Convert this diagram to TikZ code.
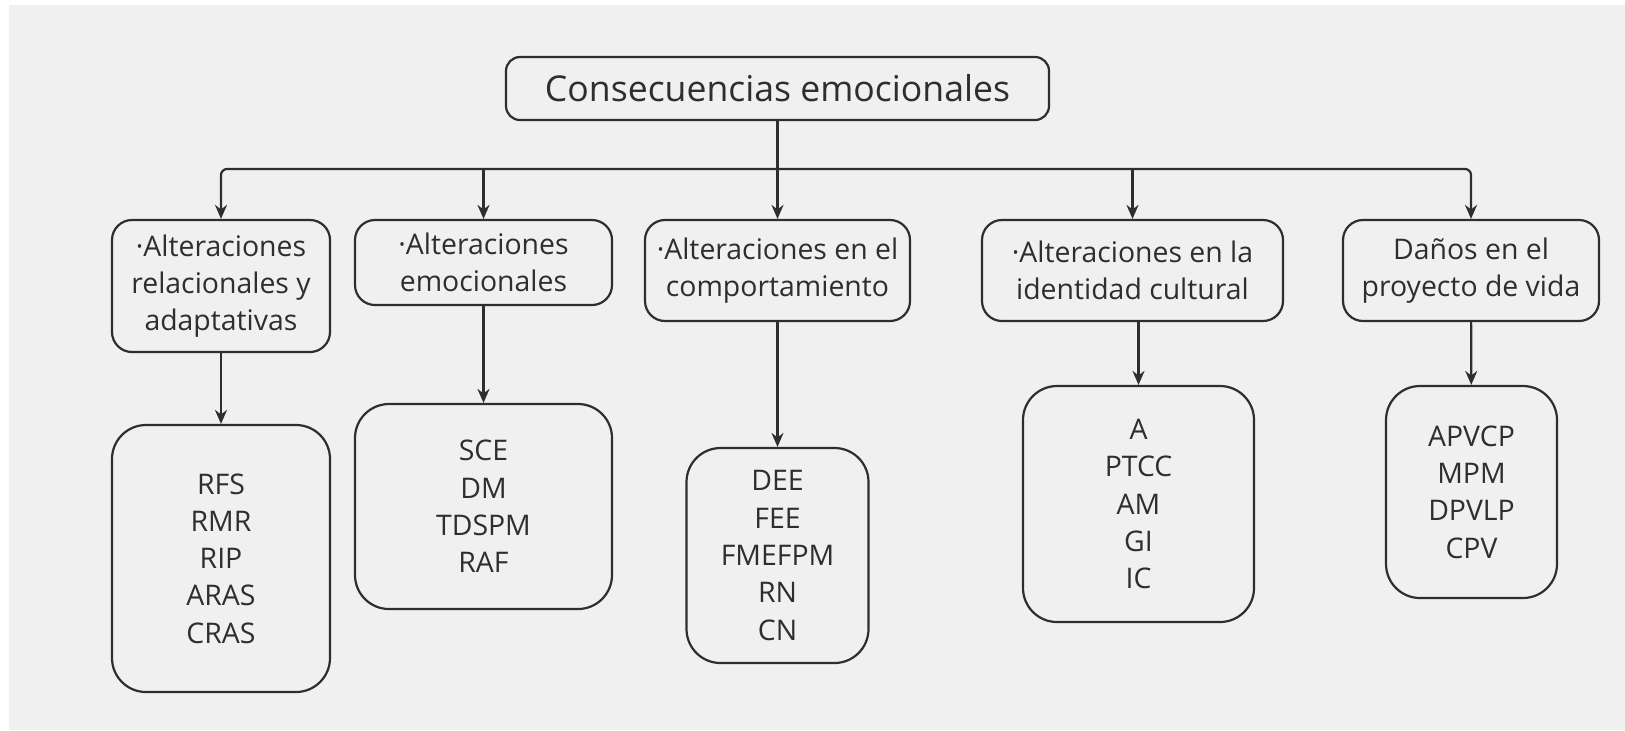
\documentclass[tikz,border=0pt]{standalone}
\usepackage{fontspec}
\setmainfont{Open Sans}
\usetikzlibrary{arrows.meta}
\definecolor{inkgray}{HTML}{2E2E2E}
\definecolor{paper}{HTML}{F0F0F0}
\tikzset{
  box/.style={draw=inkgray, line width=1.1pt, text=inkgray, align=center, inner sep=0pt},
  titlebox/.style={box, rounded corners=7pt, font=\fontsize{17.8pt}{22pt}\selectfont},
  catbox/.style={box, rounded corners=10pt, font=\fontsize{14.2pt}{18.65pt}\selectfont},
  itembox/.style={box, rounded corners=17pt, font=\fontsize{14.2pt}{18.65pt}\selectfont},
  wire/.style={draw=inkgray, line width=1.1pt},
  link/.style={wire, -{Stealth[length=7pt,width=6pt]}},
}
\newcommand{\catnode}[5]{%
 \node[catbox, minimum width=#3, minimum height=#4] (#1) at (#2) {#5};%
}
\newcommand{\itemnode}[5]{%
 \node[itembox, minimum width=#3, minimum height=#4] (#1) at (#2) {#5};%
}
\begin{document}
\begin{tikzpicture}[x=0.5pt, y=-0.5pt]
   \useasboundingbox (0,0) rectangle (1625,730);
   \fill[white] (0,0) rectangle (1625,730);
   \fill[paper] (9,5) rectangle (1625,730);
   % top of the tree
   \node[titlebox, minimum width=271.5pt, minimum height=31.5pt] (title) at (777.5,88.5) {Consecuencias emocionales};
   \coordinate (bus) at (777.5,169);
   % categories
   \catnode{catA}{221,286}{109pt}{66pt}{·Alteraciones\\relacionales y\\adaptativas}
   \catnode{catB}{483.5,262.5}{128.5pt}{42.5pt}{·Alteraciones\\emocionales}
   \catnode{catC}{777.5,270.5}{132.5pt}{50.5pt}{·Alteraciones en el\\comportamiento}
   \catnode{catD}{1132.5,270.5}{150.5pt}{50.5pt}{·Alteraciones en la\\identidad cultural}
   \catnode{catE}{1471,270.5}{128pt}{50.5pt}{Daños en el\\proyecto de vida}
   % items
   \itemnode{itmA}{221,558.5}{109pt}{133.5pt}{RFS\\RMR\\RIP\\ARAS\\CRAS}
   \itemnode{itmB}{483.5,506.5}{128.5pt}{102.5pt}{SCE\\DM\\TDSPM\\RAF}
   \itemnode{itmC}{777.5,555.5}{91pt}{107.5pt}{DEE\\FEE\\FMEFPM\\RN\\CN}
   \itemnode{itmD}{1138.5,504}{115.5pt}{118pt}{A\\PTCC\\AM\\GI\\IC}
   \itemnode{itmE}{1471.5,492}{85.5pt}{106pt}{APVCP\\MPM\\DPVLP\\CPV}
   % connectors
   \draw[wire] (title) -- (bus);
   \draw[link, rounded corners=3pt] (bus) -| (catA.north);
   \draw[link, rounded corners=3pt] (bus) -| (catE.north);
   \foreach \n in {catB,catC,catD}
     \draw[link] (\n.north |- bus) -- (\n.north);
   \draw[link] (catA) -- (itmA);
   \draw[link] (catB) -- (itmB);
   \draw[link] (catC) -- (itmC);
   \draw[link] (itmD.north |- catD.south) -- (itmD);
   \draw[link] (catE) -- (itmE);
\end{tikzpicture}
\end{document}
